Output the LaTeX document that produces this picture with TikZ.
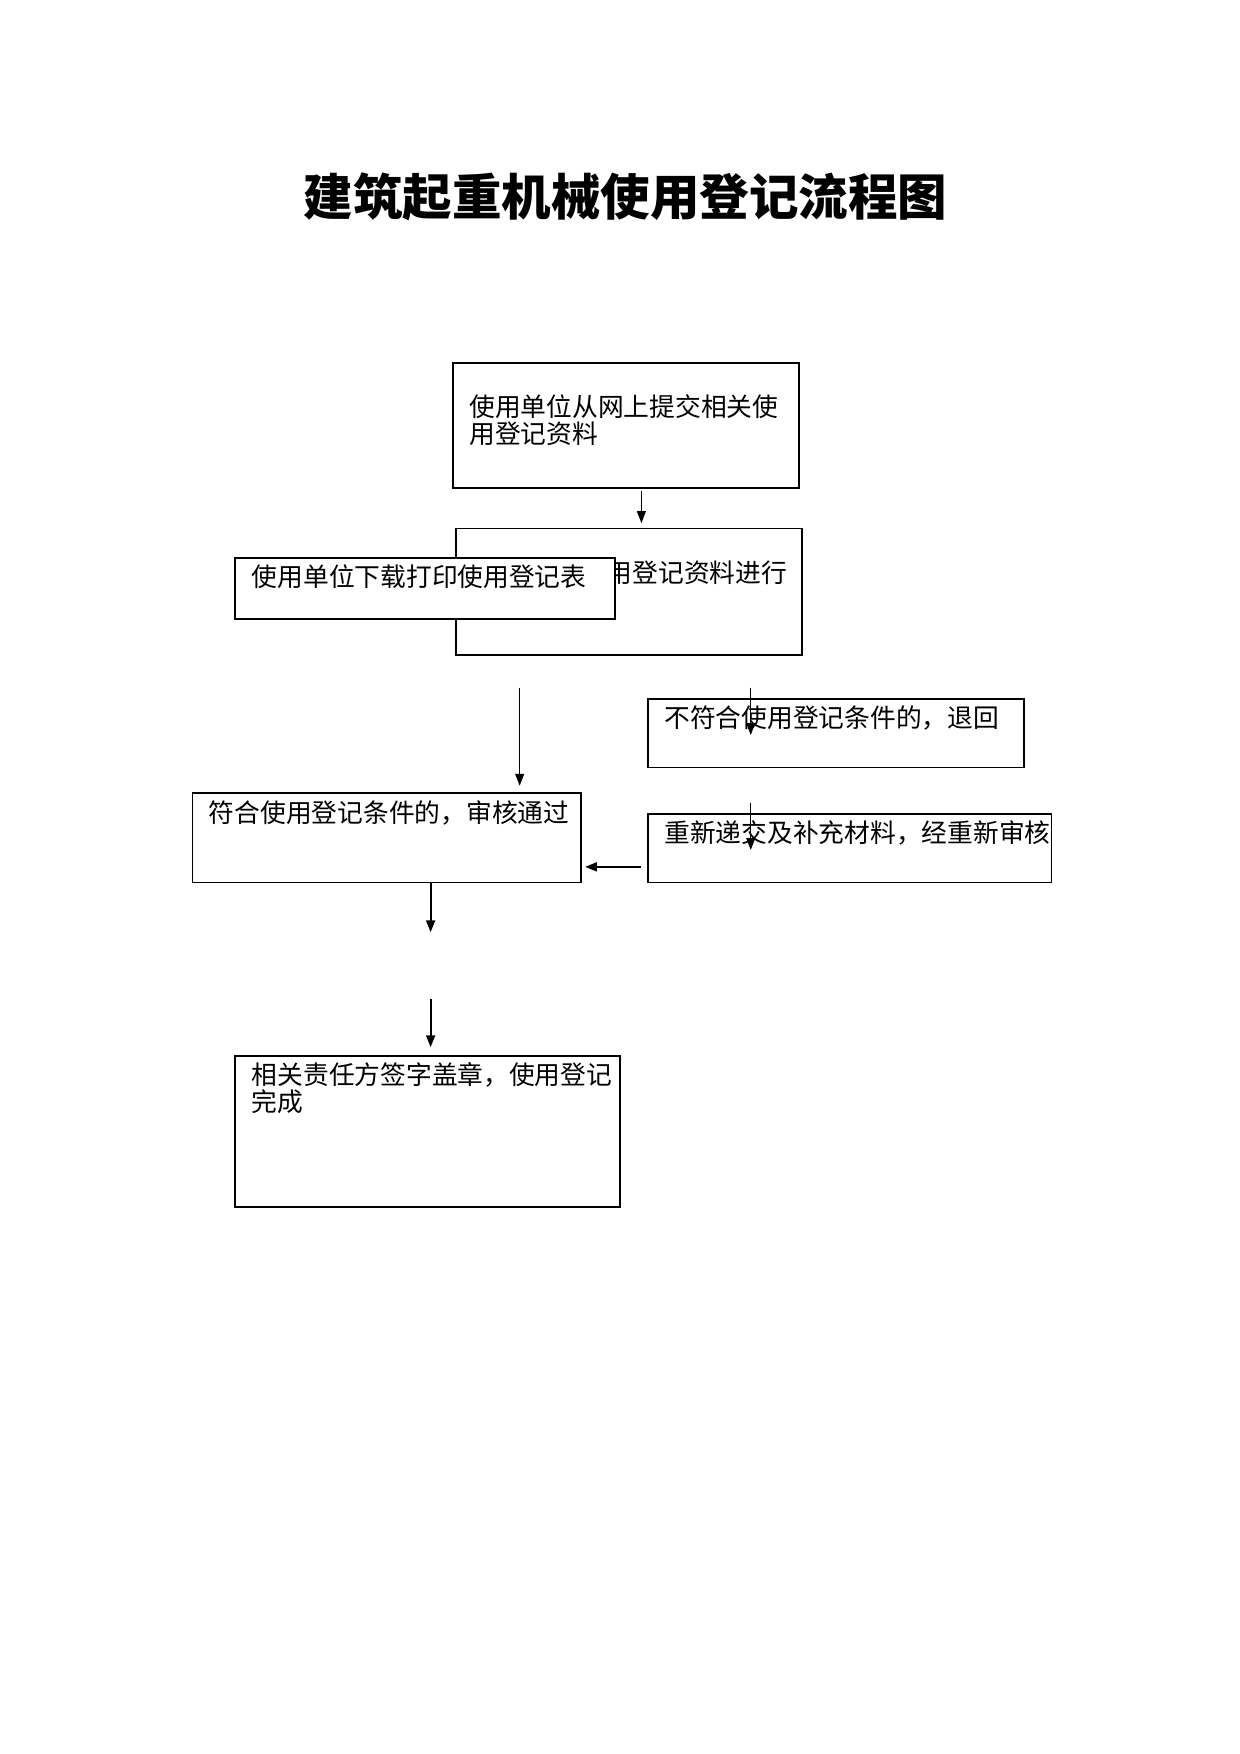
\documentclass[tikz,border=0pt]{standalone}
\usepackage{fontspec}
\setmainfont{Liberation Serif}
\newfontfamily\cjk{Noto Sans CJK SC}
\usetikzlibrary{arrows.meta}
\usetikzlibrary{calc}

\tikzset{
	box/.style={draw,line width=0.9pt,fill=white,anchor=north west,inner sep=0pt},
	txt/.style={anchor=north west,inner sep=0pt,align=left,font=\cjk\fontsize{13}{13.5}\selectfont},
	arr/.style={line width=0.6pt,-{Triangle[length=6pt,width=4.5pt]}}
}

\begin{document}
\begin{tikzpicture}[x=0.02cm,y=-0.02cm]
\useasboundingbox (0,0) rectangle (1100,1556);
\node[font=\cjk\bfseries\fontsize{25}{25}\selectfont] (title) at (555,175) {建筑起重机械使用登记流程图};
% boxes
\node[box,minimum width=6.14cm,minimum height=2.22cm] (b1) at (401,321) {};
\node[txt] (t1) at (416,350) {使用单位从网上提交相关使\\用登记资料};
\node[box,minimum width=6.14cm,minimum height=2.24cm] (b2) at (404,468) {};
\node[txt] (t2) at (538,497) {用登记资料进行};
\node[box,minimum width=6.74cm,minimum height=1.08cm] (b3) at (208,494) {};
\node[txt] (t3) at (223,501) {使用单位下载打印使用登记表};
\node[box,minimum width=6.68cm,minimum height=1.22cm] (b4) at (574,619) {};
\node[txt] (t4) at (589,626) {不符合使用登记条件的，退回};
\node[box,minimum width=6.9cm,minimum height=1.58cm] (b5) at (170,703) {};
\node[txt] (t5) at (185,710) {符合使用登记条件的，审核通过};
\node[box,minimum width=7.16cm,minimum height=1.22cm] (b6) at (574,721) {};
\node[txt] (t6) at (589,728) {重新递交及补充材料，经重新审核};
\node[box,minimum width=6.82cm,minimum height=2.68cm] (b7) at (208,936) {};
\node[txt] (t7) at (223,942) {相关责任方签字盖章，使用登记\\完成};
% free ends
\coordinate (a1) at (569,436); \coordinate (a2) at (569,464);
\coordinate (c1) at (461,610); \coordinate (c2) at (461,697);
\coordinate (d1) at (666,610); \coordinate (d2) at (666,652);
\coordinate (e1) at (666,712); \coordinate (e2) at (666,754);
\coordinate (f1) at (569,769); \coordinate (f2) at (519,769);
\coordinate (g1) at (382,782); \coordinate (g2) at (382,827);
\coordinate (h1) at (382,886); \coordinate (h2) at (382,929);
\draw[arr] (a1) -- (a2);
\draw[arr] (c1) -- (c2);
\draw[arr] (d1) -- (d2);
\draw[arr] (e1) -- (e2);
\draw[arr,line width=1pt] (f1) -- (f2);
\draw[arr,line width=1pt] (g1) -- (g2);
\draw[arr,line width=1pt] (h1) -- (h2);
\end{tikzpicture}
\end{document}
